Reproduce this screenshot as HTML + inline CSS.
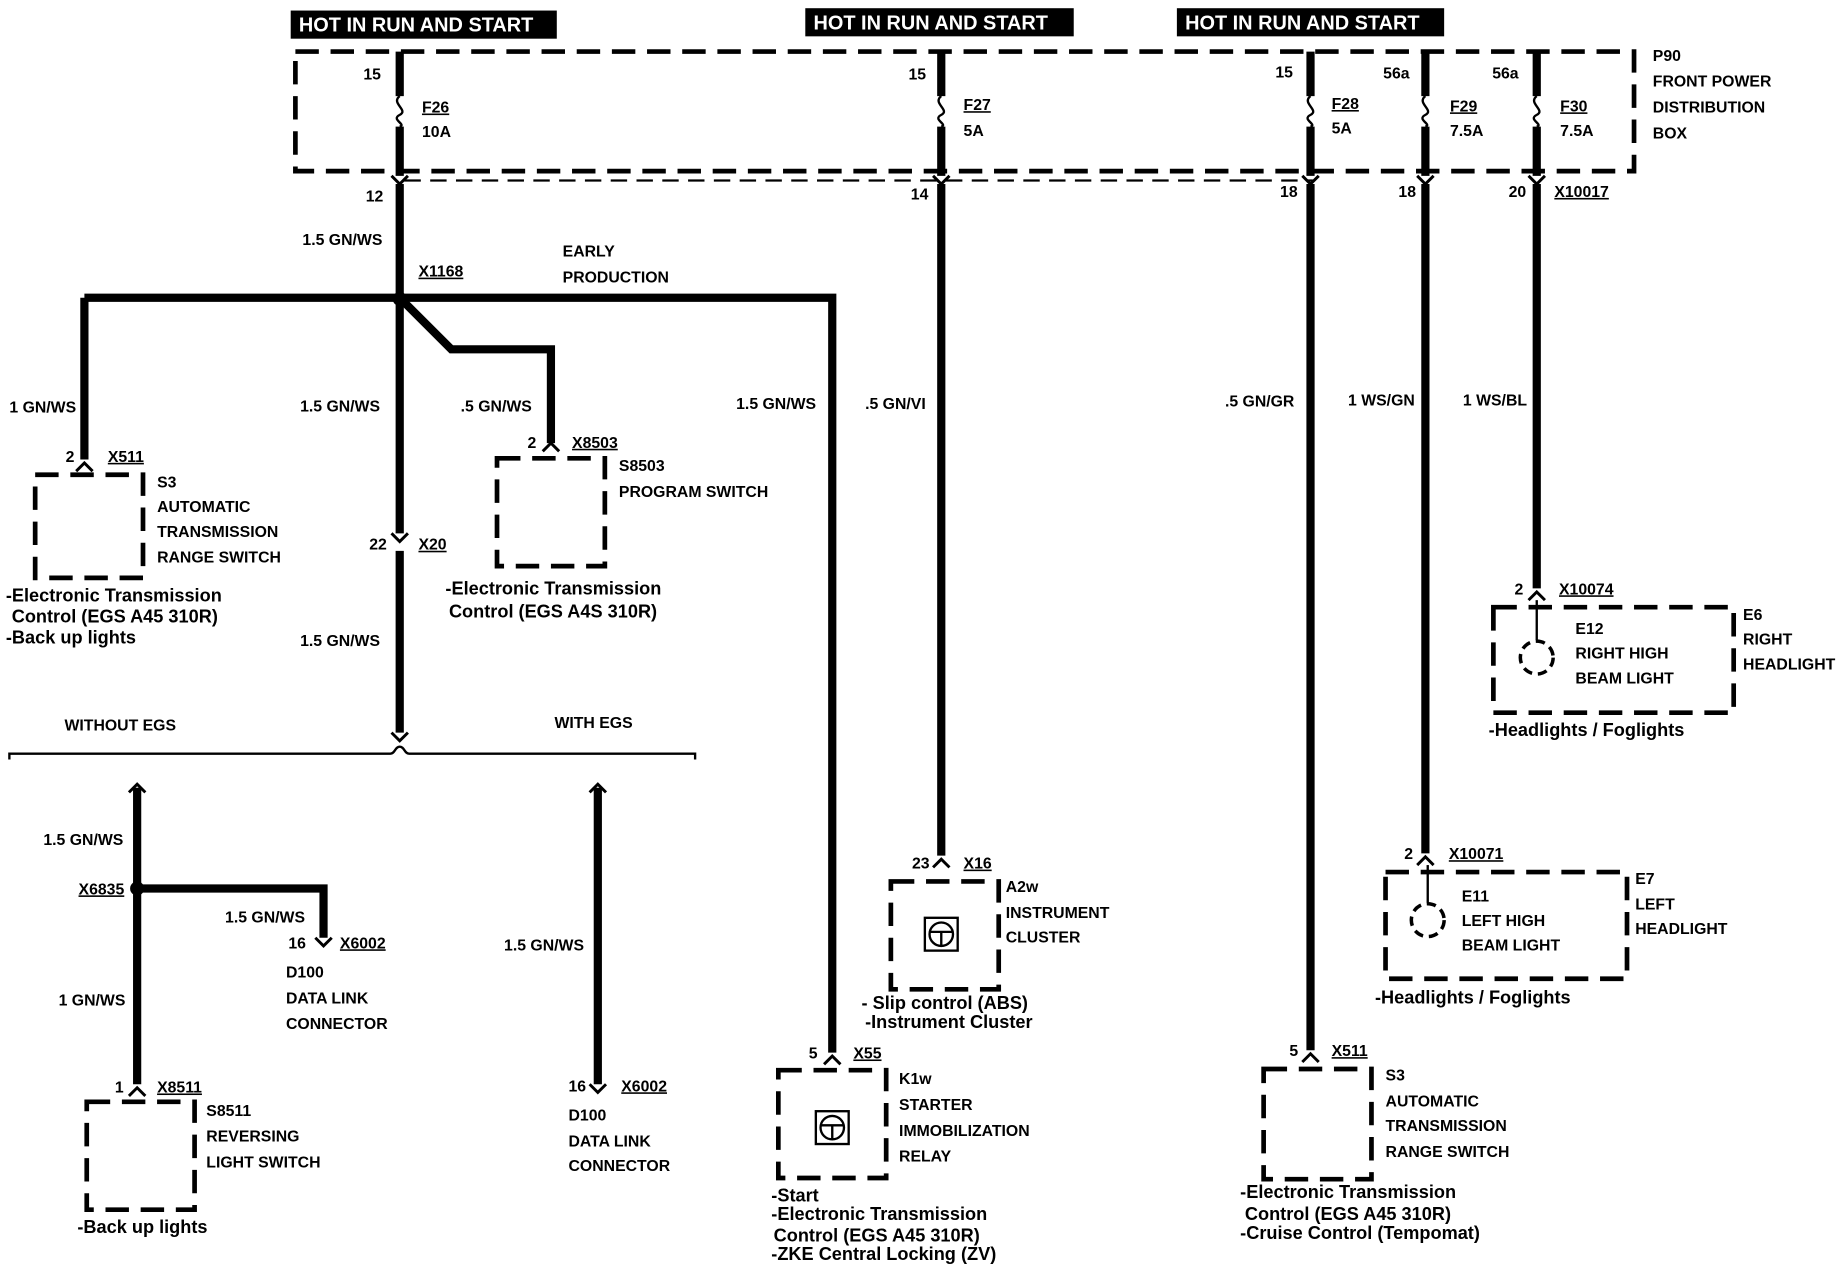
<!DOCTYPE html>
<html><head><meta charset="utf-8"><style>
html,body{margin:0;padding:0;background:#fff;width:1838px;height:1280px;overflow:hidden}
svg{display:block}
text{font-family:"Liberation Sans",sans-serif;font-size:13.5px;fill:#000;font-weight:bold}
.b{font-size:15.5px}
.h{fill:#fff;font-size:17px}
.w{stroke:#000;stroke-width:7;fill:none}
.t{stroke:#000;stroke-width:2;fill:none}
.d{stroke:#000;stroke-width:4;fill:none;stroke-dasharray:20 10}
.c{stroke:#000;stroke-width:2.5;fill:none}
</style></head><body>
<svg width="1838" height="1280" viewBox="0 0 1568 1092" preserveAspectRatio="none">
<rect x="248" y="9" width="227" height="24" fill="#000"/><text class="h" x="255" y="27">HOT IN RUN AND START</text>
<rect x="687" y="7" width="229" height="24" fill="#000"/><text class="h" x="694" y="25">HOT IN RUN AND START</text>
<rect x="1004" y="7" width="228" height="24" fill="#000"/><text class="h" x="1011" y="25">HOT IN RUN AND START</text>
<rect x="252" y="44" width="1142" height="102" class="d"/>
<line x1="345" y1="154" x2="1120" y2="154" stroke="#000" stroke-width="2" stroke-dasharray="14 8"/>
<text x="1410" y="52">P90</text><text x="1410" y="74">FRONT POWER</text><text x="1410" y="96">DISTRIBUTION</text><text x="1410" y="118">BOX</text>
<g>
<path class="w" d="M341 44V82M341 108V150"/><path class="t" d="M341 82c-8 6 8 12 0 16c-8 4 6 8 0 10"/>
<text x="310" y="68">15</text><text x="360" y="96" text-decoration="underline">F26</text><text x="360" y="117">10A</text><text x="312" y="172">12</text>
<path class="w" d="M803 44V82M803 108V150"/><path class="t" d="M803 82c-8 6 8 12 0 16c-8 4 6 8 0 10"/>
<text x="775" y="68">15</text><text x="822" y="94" text-decoration="underline">F27</text><text x="822" y="116">5A</text><text x="777" y="170">14</text>
<path class="w" d="M1118 44V82M1118 108V150"/><path class="t" d="M1118 82c-8 6 8 12 0 16c-8 4 6 8 0 10"/>
<text x="1088" y="66">15</text><text x="1136" y="93" text-decoration="underline">F28</text><text x="1136" y="114">5A</text><text x="1092" y="168">18</text>
<path class="w" d="M1216 44V82M1216 108V150"/><path class="t" d="M1216 82c-8 6 8 12 0 16c-8 4 6 8 0 10"/>
<text x="1180" y="67">56a</text><text x="1237" y="95" text-decoration="underline">F29</text><text x="1237" y="116">7.5A</text><text x="1193" y="168">18</text>
<path class="w" d="M1311 44V82M1311 108V150"/><path class="t" d="M1311 82c-8 6 8 12 0 16c-8 4 6 8 0 10"/>
<text x="1273" y="67">56a</text><text x="1331" y="95" text-decoration="underline">F30</text><text x="1331" y="116">7.5A</text><text x="1287" y="168">20</text><text x="1326" y="168" text-decoration="underline">X10017</text>
</g>
<path class="c" d="M334 150l7 7l7-7M796 150l7 7l7-7M1111 150l7 7l7-7M1209 150l7 7l7-7M1304 150l7 7l7-7"/>
<path class="w" d="M341 157V455M341 470V625"/>
<path class="c" d="M334 455l7 7l7-7M334 625l7 7l7-7"/>
<text x="258" y="209">1.5 GN/WS</text><text x="357" y="236" text-decoration="underline">X1168</text>
<text x="480" y="219">EARLY</text><text x="480" y="241">PRODUCTION</text>
<path class="w" d="M72 254H710V898M72 254V392M341 254L385 298H470V378"/>
<circle cx="341" cy="255" r="6" fill="#000"/>
<path class="c" d="M65 402l7-7l7 7M463 385l7-7l7 7M703 908l7-7l7 7"/>
<text x="8" y="352">1 GN/WS</text><text x="56" y="394">2</text><text x="92" y="394" text-decoration="underline">X511</text>
<rect x="30" y="405" width="92" height="88" class="d"/>
<text x="134" y="416">S3</text><text x="134" y="437">AUTOMATIC</text><text x="134" y="458">TRANSMISSION</text><text x="134" y="480">RANGE SWITCH</text>
<text class="b" x="5" y="513">-Electronic Transmission</text><text class="b" x="10" y="531">Control (EGS A45 310R)</text><text class="b" x="5" y="549">-Back up lights</text>
<text x="256" y="351">1.5 GN/WS</text><text x="393" y="351">.5 GN/WS</text><text x="628" y="349">1.5 GN/WS</text>
<text x="450" y="382">2</text><text x="488" y="382" text-decoration="underline">X8503</text>
<rect x="424" y="391" width="92" height="92" class="d"/>
<text x="528" y="402">S8503</text><text x="528" y="424">PROGRAM SWITCH</text>
<text class="b" x="380" y="507">-Electronic Transmission</text><text class="b" x="383" y="527">Control (EGS A4S 310R)</text>
<text x="315" y="469">22</text><text x="357" y="469" text-decoration="underline">X20</text>
<text x="256" y="551">1.5 GN/WS</text>
<path class="t" d="M8 648V643H333c4 0 4-6 8-6c4 0 4 6 8 6H593V648"/>
<text x="55" y="623">WITHOUT EGS</text><text x="473" y="621">WITH EGS</text>
<path class="w" d="M117 672V925M117 758H276V800"/>
<path class="c" d="M110 676l7-7l7 7M503 676l7-7l7 7M269 800l7 7l7-7M110 935l7-7l7 7M503 925l7 7l7-7"/>
<circle cx="117" cy="758" r="6" fill="#000"/>
<text x="37" y="721">1.5 GN/WS</text><text x="67" y="763" text-decoration="underline">X6835</text>
<text x="192" y="787">1.5 GN/WS</text><text x="246" y="809">16</text><text x="290" y="809" text-decoration="underline">X6002</text>
<text x="244" y="834">D100</text><text x="244" y="856">DATA LINK</text><text x="244" y="878">CONNECTOR</text>
<text x="50" y="858">1 GN/WS</text><text x="98" y="932">1</text><text x="134" y="932" text-decoration="underline">X8511</text>
<rect x="74" y="940" width="92" height="92" class="d"/>
<text x="176" y="952">S8511</text><text x="176" y="974">REVERSING</text><text x="176" y="996">LIGHT SWITCH</text>
<text class="b" x="66" y="1052">-Back up lights</text>
<path class="w" d="M510 672V925"/>
<text x="430" y="811">1.5 GN/WS</text><text x="485" y="931">16</text><text x="530" y="931" text-decoration="underline">X6002</text>
<text x="485" y="956">D100</text><text x="485" y="978">DATA LINK</text><text x="485" y="999">CONNECTOR</text>
<text x="690" y="903">5</text><text x="728" y="903" text-decoration="underline">X55</text>
<rect x="664" y="913" width="92" height="92" class="d"/>
<rect x="696" y="948" width="28" height="28" class="t"/><circle cx="710" cy="962" r="10" class="t"/><path class="t" d="M700 960h20M710 960v12"/>
<text x="767" y="925">K1w</text><text x="767" y="947">STARTER</text><text x="767" y="969">IMMOBILIZATION</text><text x="767" y="991">RELAY</text>
<text class="b" x="658" y="1025">-Start</text><text class="b" x="658" y="1041">-Electronic Transmission</text><text class="b" x="660" y="1059">Control (EGS A45 310R)</text><text class="b" x="658" y="1075">-ZKE Central Locking (ZV)</text>
<path class="w" d="M803 157V730"/><path class="c" d="M796 740l7-7l7 7"/>
<text x="738" y="349">.5 GN/VI</text><text x="778" y="741">23</text><text x="822" y="741" text-decoration="underline">X16</text>
<rect x="760" y="752" width="92" height="92" class="d"/>
<rect x="789" y="783" width="28" height="28" class="t"/><circle cx="803" cy="797" r="10" class="t"/><path class="t" d="M793 795h20M803 795v12"/>
<text x="858" y="761">A2w</text><text x="858" y="783">INSTRUMENT</text><text x="858" y="804">CLUSTER</text>
<text class="b" x="735" y="861">- Slip control (ABS)</text><text class="b" x="738" y="877">-Instrument Cluster</text>
<path class="w" d="M1118 157V896"/><path class="c" d="M1111 906l7-7l7 7"/>
<text x="1045" y="347">.5 GN/GR</text><text x="1100" y="901">5</text><text x="1136" y="901" text-decoration="underline">X511</text>
<rect x="1078" y="912" width="92" height="94" class="d"/>
<text x="1182" y="922">S3</text><text x="1182" y="944">AUTOMATIC</text><text x="1182" y="965">TRANSMISSION</text><text x="1182" y="987">RANGE SWITCH</text>
<text class="b" x="1058" y="1022">-Electronic Transmission</text><text class="b" x="1062" y="1041">Control (EGS A45 310R)</text><text class="b" x="1058" y="1057">-Cruise Control (Tempomat)</text>
<path class="w" d="M1216 157V728"/><path class="c" d="M1209 738l7-7l7 7"/><path class="t" d="M1218 738V770"/>
<text x="1150" y="346">1 WS/GN</text><text x="1198" y="733">2</text><text x="1236" y="733" text-decoration="underline">X10071</text>
<rect x="1182" y="744" width="206" height="91" class="d"/>
<circle cx="1218" cy="785" r="14" fill="none" stroke="#000" stroke-width="3" stroke-dasharray="8 5"/>
<text x="1247" y="769">E11</text><text x="1247" y="790">LEFT HIGH</text><text x="1247" y="811">BEAM LIGHT</text>
<text x="1395" y="754">E7</text><text x="1395" y="776">LEFT</text><text x="1395" y="797">HEADLIGHT</text>
<text class="b" x="1173" y="856">-Headlights / Foglights</text>
<path class="w" d="M1311 157V502"/><path class="c" d="M1304 512l7-7l7 7"/><path class="t" d="M1311 512V546"/>
<text x="1248" y="346">1 WS/BL</text><text x="1292" y="507">2</text><text x="1330" y="507" text-decoration="underline">X10074</text>
<rect x="1274" y="518" width="205" height="90" class="d"/>
<circle cx="1311" cy="561" r="14" fill="none" stroke="#000" stroke-width="3" stroke-dasharray="8 5"/>
<text x="1344" y="541">E12</text><text x="1344" y="562">RIGHT HIGH</text><text x="1344" y="583">BEAM LIGHT</text>
<text x="1487" y="529">E6</text><text x="1487" y="550">RIGHT</text><text x="1487" y="571">HEADLIGHT</text>
<text class="b" x="1270" y="628">-Headlights / Foglights</text>
</svg>
</body></html>
